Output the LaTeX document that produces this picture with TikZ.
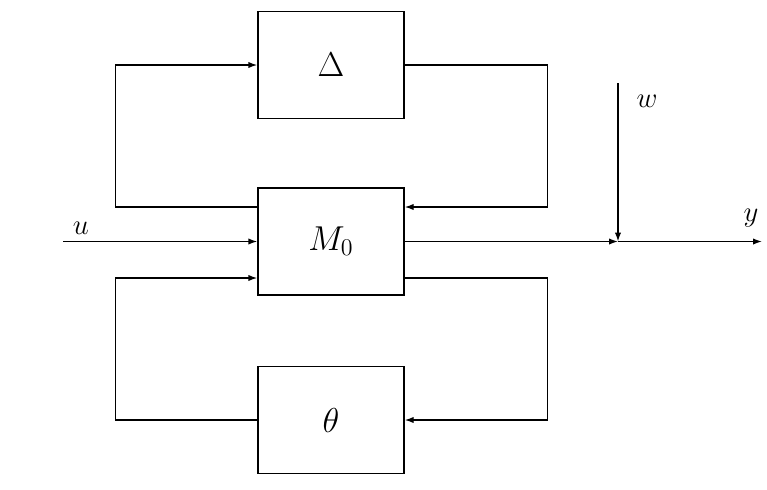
\documentclass[tikz,border=0pt]{standalone}
\usetikzlibrary{arrows.meta,calc}

\begin{document}
\begin{tikzpicture}[
  x=0.5pt, y=-0.5pt,
  line width=0.7pt,
  sysblock/.style={rectangle, draw, minimum width=73pt, minimum height=53.5pt, inner sep=0pt, font=\fontsize{17.5}{19}\selectfont},
  sig/.style={font=\fontsize{14}{16}\selectfont},
  arrow/.style={-{Latex[length=4.5pt,width=3.2pt]}},
]
\useasboundingbox (0,0) rectangle (767,489);

\node[sysblock] (delta) at (331,65) {$\Delta$};
\node[sysblock] (mzero) at (331,241.5) {$M_0$};
\node[sysblock] (theta) at (331,420) {$\theta$};

\coordinate (uin) at (63,241.5);
\coordinate (sum) at (618,241.5);
\coordinate (yout) at (762,241.5);
\coordinate (win) at (618,83);

\node[sig] (ulab) at (81,228) {$u$};
\node[sig] (wlab) at (647,101) {$w$};
\node[sig] (ylab) at (751,218) {$y$};

% upper loop through Delta
\draw[arrow] ([yshift=17.25pt]mzero.west) -- ++(-142,0) |- (delta.west);
\draw[arrow] (delta.east) -- ++(143,0) |- ([yshift=17.25pt]mzero.east);

% lower loop through theta
\draw[arrow] (theta.west) -- ++(-142,0) |- ([yshift=-18.25pt]mzero.west);
\draw[arrow] ([yshift=-18.25pt]mzero.east) -- ++(143,0) |- (theta.east);

% signals
\draw[arrow] (uin) -- (mzero.west);
\draw[arrow] (mzero.east) -- (sum);
\draw[arrow] (sum) -- (yout);
\draw[arrow] (win) -- (sum);

\end{tikzpicture}
\end{document}
